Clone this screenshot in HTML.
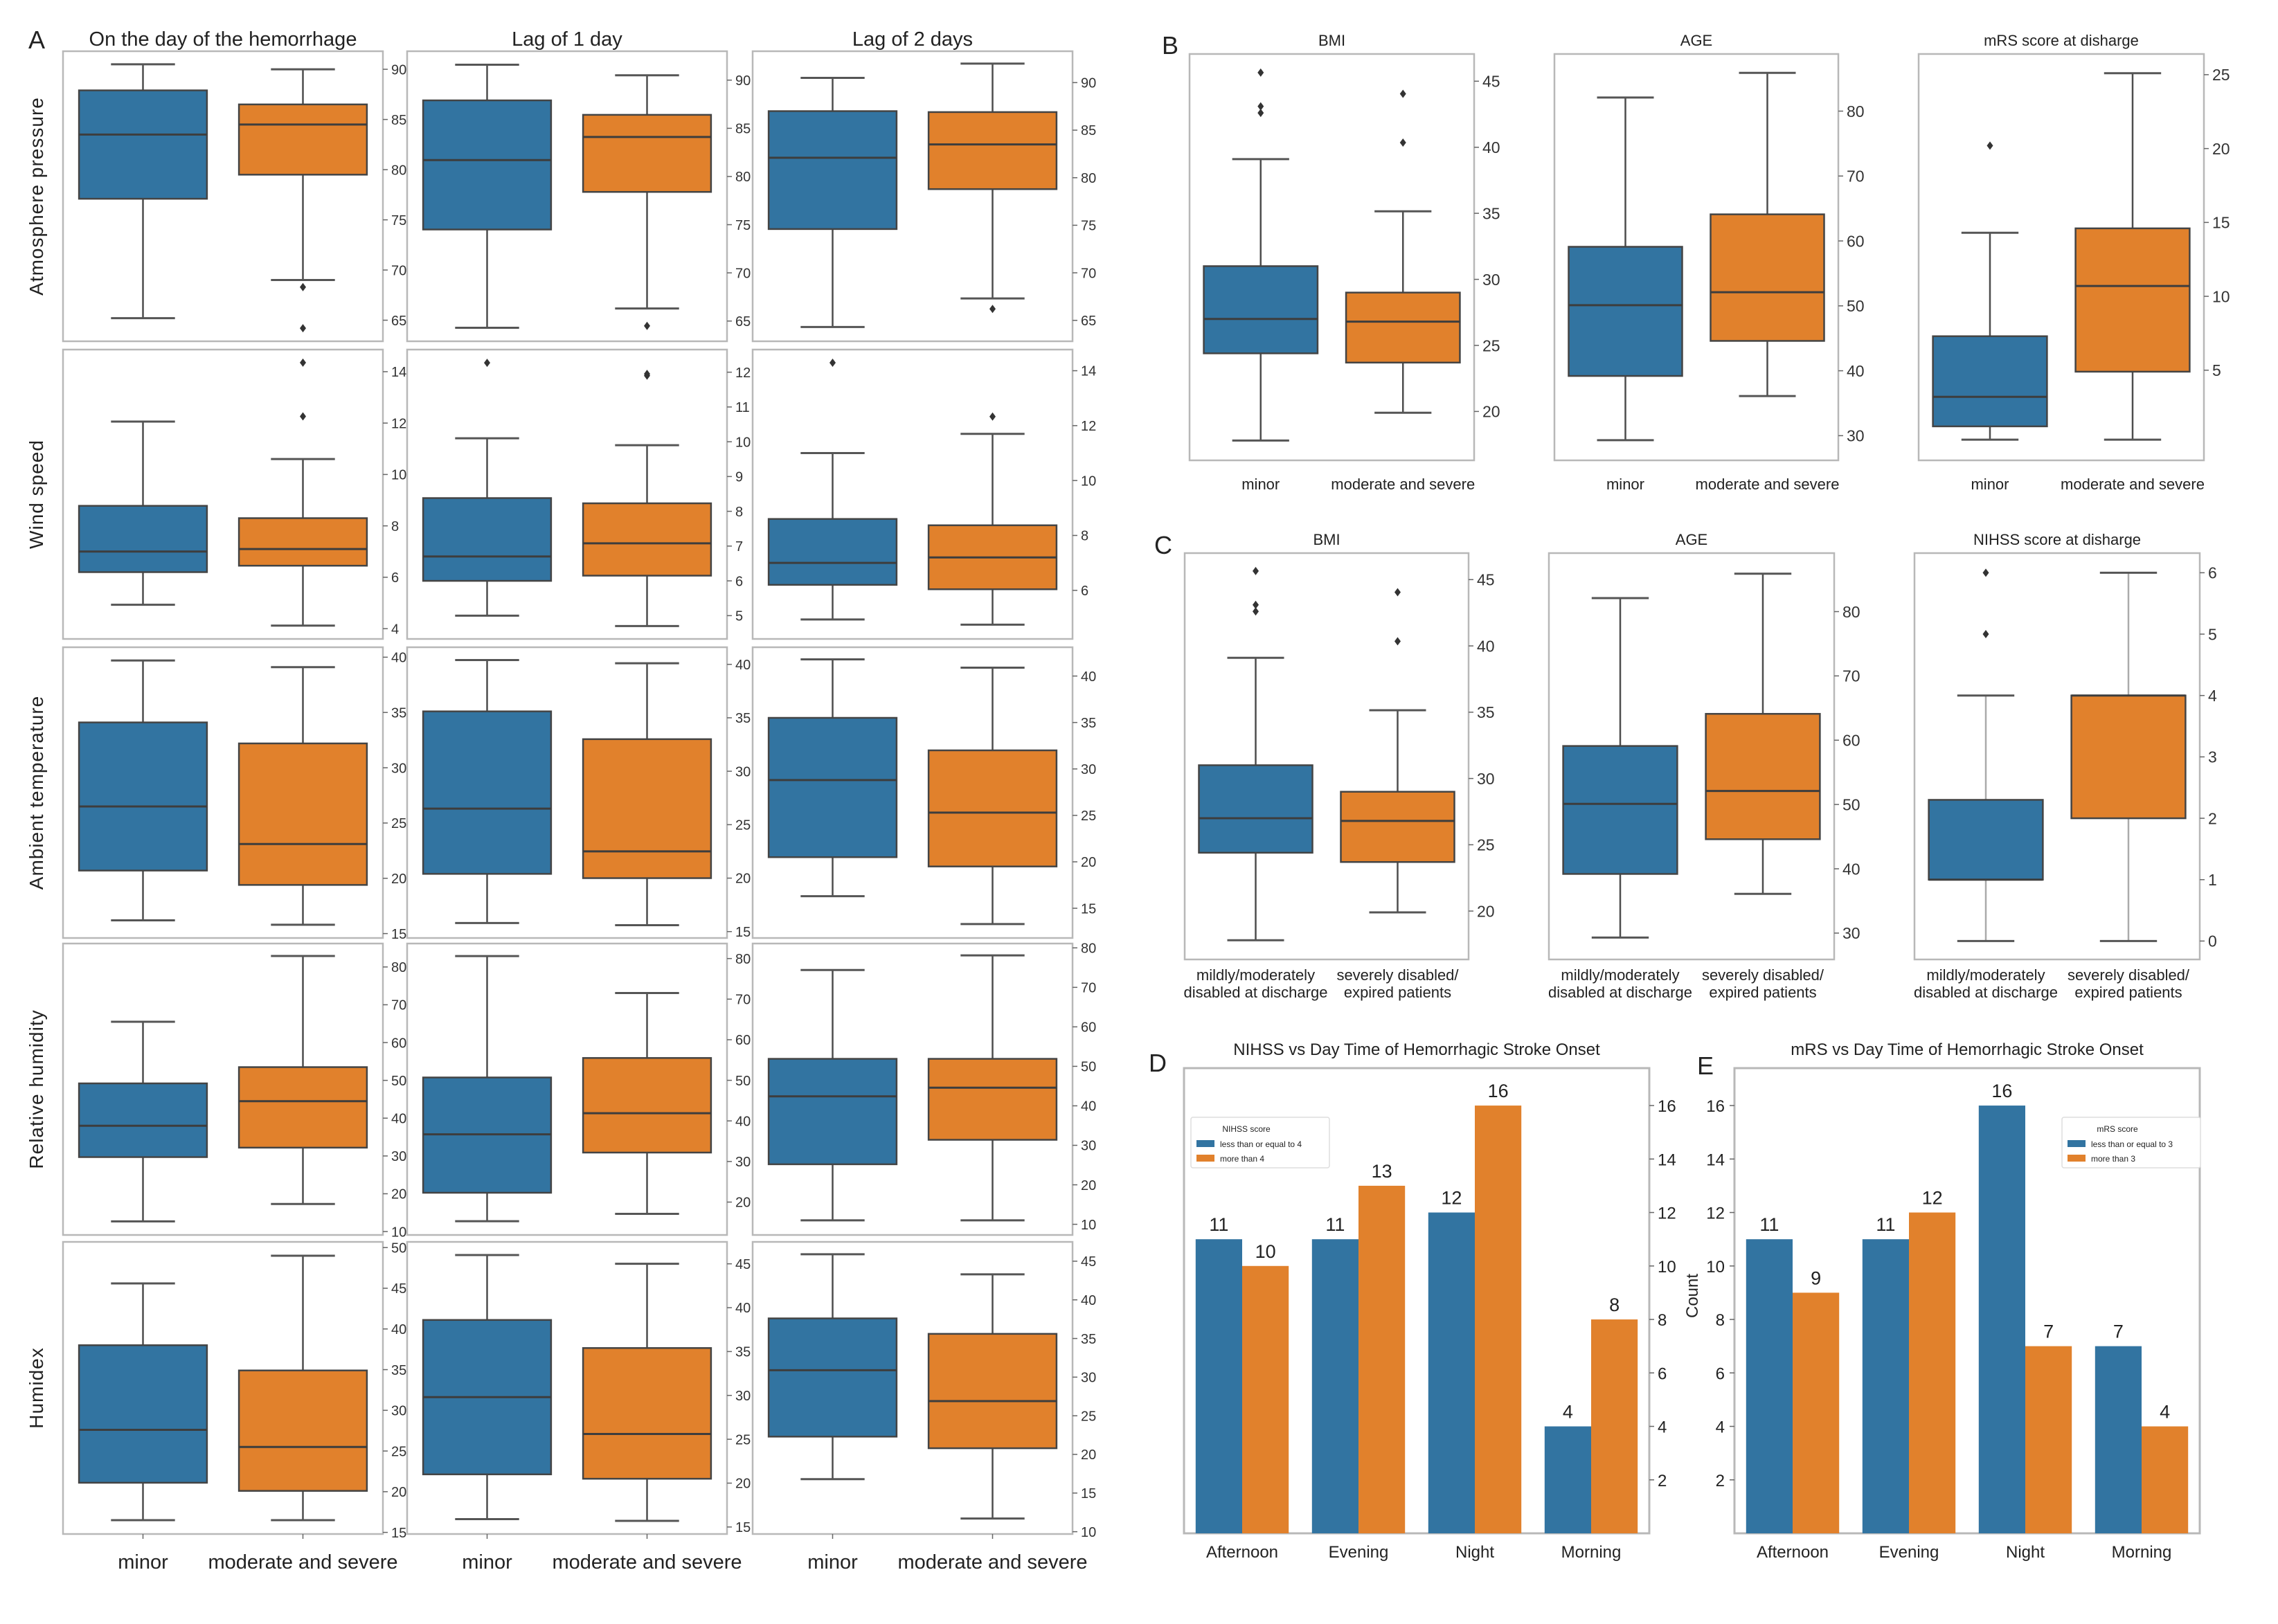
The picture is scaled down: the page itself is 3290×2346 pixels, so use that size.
<!DOCTYPE html>
<html><head><meta charset="utf-8"><style>
html,body{margin:0;padding:0;background:#fff;}
svg{display:block;font-family:"Liberation Sans",sans-serif;}
</style></head><body>
<svg id="fig" width="3290" height="2346" viewBox="0 0 3290 2346" xmlns="http://www.w3.org/2000/svg">
<rect width="3290" height="2346" fill="#fff"/>
</svg>
<script>
// ---------- data: panel A (box stats = [low whisker, q1, median, q3, high whisker]) ----------
const presLag0Minor=[65.2,77.1,83.5,87.9,90.5]; const presLag0Severe=[69,79.5,84.5,86.5,90]; const presLag0SevereOut=[68.3,64.2];
const presLag1Minor=[64.3,74.5,81.7,87.9,91.6]; const presLag1Severe=[66.3,78.4,84.1,86.4,90.5]; const presLag1SevereOut=[64.5];
const presLag2Minor=[64.3,74.6,82.1,87,90.5]; const presLag2Severe=[67.3,78.8,83.5,86.9,92]; const presLag2SevereOut=[66.2];
const windLag0Minor=[4.93,6.2,7.0,8.78,12.06]; const windLag0Severe=[4.12,6.45,7.1,8.3,10.6]; const windLag0SevereOut=[14.35,12.26];
const windLag1Minor=[5.0,6.0,6.7,8.38,10.1]; const windLag1MinorOut=[12.27]; const windLag1Severe=[4.7,6.15,7.08,8.23,9.9]; const windLag1SevereOut=[11.95,11.9];
const windLag2Minor=[4.94,6.2,7.0,8.6,11.0]; const windLag2MinorOut=[14.29]; const windLag2Severe=[4.75,6.04,7.2,8.37,11.7]; const windLag2SevereOut=[12.33];
const tempLag0Minor=[16.2,20.7,26.5,34.1,39.7]; const tempLag0Severe=[15.8,19.4,23.1,32.2,39.1];
const tempLag1Minor=[15.8,20.4,26.5,35.6,40.4]; const tempLag1Severe=[15.6,20.0,22.5,33.0,40.1];
const tempLag2Minor=[16.3,20.5,28.8,35.5,41.8]; const tempLag2Severe=[13.3,19.5,25.3,32.0,40.9];
const humLag0Minor=[12.7,29.7,38.0,49.2,65.5]; const humLag0Severe=[17.3,32.2,44.5,53.5,82.9];
const humLag1Minor=[15.3,22.3,36.7,50.7,80.6]; const humLag1Severe=[17.1,32.2,41.9,55.5,71.5];
const humLag2Minor=[11,25.2,42.4,51.9,74.4]; const humLag2Severe=[11,31.4,44.6,51.9,78.1];
const hdxLag0Minor=[16.5,21.1,27.6,38.0,45.6]; const hdxLag0Severe=[16.5,20.1,25.5,34.9,49.0];
const hdxLag1Minor=[15.9,21.0,29.8,38.6,46.0]; const hdxLag1Severe=[15.7,20.5,25.6,35.4,45.0];
const hdxLag2Minor=[16.8,22.3,30.9,37.6,45.9]; const hdxLag2Severe=[11.7,20.8,26.9,35.6,43.3];
// ---------- data: panels B and C ----------
const bmiMinor=[17.8,24.4,27.0,31.0,39.1]; const bmiMinorOut=[45.65,43.1,42.6];
const bmiSevere=[19.9,23.7,26.8,29.0,35.15]; const bmiSevereOut=[44.05,40.35];
const ageMinor=[29.3,39.2,50.1,59.1,82.1]; const ageSevere=[36.1,44.6,52.1,64.1,85.9];
const mrsMinor=[0.3,1.2,3.2,7.3,14.3]; const mrsMinorOut=[20.2]; const mrsSevere=[0.3,4.9,10.7,14.6,25.1];
const nihssMild=[0,1,1,2.3,4]; const nihssMildOut=[6,5]; const nihssSevere=[0,2,4,4,6];
// ---------- data: panels D and E ----------
const dayTimes=["Afternoon","Evening","Night","Morning"];
const nihssLow=[11,11,12,4]; const nihssHigh=[10,13,16,8];
const mrsLow=[11,11,16,7]; const mrsHigh=[9,12,7,4];
// ---------- tick labels ----------
const ticksPres=[65,70,75,80,85,90], ticksWind0=[4,6,8,10,12,14], ticksWind1=[5,6,7,8,9,10,11,12], ticksWind2=[6,8,10,12,14];
const ticksTemp=[15,20,25,30,35,40], ticksHum=[10,20,30,40,50,60,70,80], ticksHum1=[20,30,40,50,60,70,80];
const ticksHdx0=[15,20,25,30,35,40,45,50], ticksHdx1=[15,20,25,30,35,40,45], ticksHdx2=[10,15,20,25,30,35,40,45];
const ticksBmi=[20,25,30,35,40,45], ticksAge=[30,40,50,60,70,80], ticksMrs=[5,10,15,20,25], ticksNihss=[0,1,2,3,4,5,6];
const ticksCount=[2,4,6,8,10,12,14,16];

const NS="http://www.w3.org/2000/svg", svg=document.getElementById('fig');
const BLUE="#3274a1", ORANGE="#e1812c";
function mk(tag,attrs,parent){const e=document.createElementNS(NS,tag);for(const k in attrs)e.setAttribute(k,attrs[k]);(parent||svg).appendChild(e);return e;}
function txt(x,y,s,size,anchor,parent,extra){const t=mk('text',Object.assign({x:x,y:y,'font-size':size,'text-anchor':anchor||'middle',fill:'#222'},extra||{}),parent);t.textContent=s;return t;}

function boxPanel(name,x0,x1,y0,y1,ymin,ymax,ticks,series,tickFont,grey){
  const g=mk('g',{});
  
  
  const W=x1-x0,H=y1-y0;
  const sy=v=>y1-(v-ymin)/(ymax-ymin)*H;
  const fr=mk('rect',{x:x0,y:y0,width:W,height:H,fill:'none',stroke:'#b8b8b8','stroke-width':2.5},g);
  
  
  ticks.forEach(v=>{
    const y=sy(v);
    mk('line',{x1:x1,x2:x1+7,y1:y,y2:y,stroke:'#666','stroke-width':1.5},g);
    const t=txt(x1+12,y+tickFont*0.36,String(v),tickFont,'start',g,{fill:'#333'});
    
    
  });
  series.forEach((s,i)=>{
    const cx=x0+W*(0.25+0.5*i), bw=W*0.4, st=s.stats;
    const wc=grey?'#aaa':'#4d4d4d';
    mk('line',{x1:cx,x2:cx,y1:sy(st[0]),y2:sy(st[1]),stroke:wc,'stroke-width':2.5},g);
    mk('line',{x1:cx,x2:cx,y1:sy(st[3]),y2:sy(st[4]),stroke:wc,'stroke-width':2.5},g);
    mk('line',{x1:cx-bw/4,x2:cx+bw/4,y1:sy(st[0]),y2:sy(st[0]),stroke:'#555','stroke-width':3},g);
    mk('line',{x1:cx-bw/4,x2:cx+bw/4,y1:sy(st[4]),y2:sy(st[4]),stroke:'#555','stroke-width':3},g);
    const b=mk('rect',{x:cx-bw/2,y:sy(st[3]),width:bw,height:sy(st[1])-sy(st[3]),fill:s.color,stroke:'#444','stroke-width':2.5},g);
    
    
    mk('line',{x1:cx-bw/2,x2:cx+bw/2,y1:sy(st[2]),y2:sy(st[2]),stroke:'#3d3d3d','stroke-width':3},g);
    (s.out||[]).forEach(v=>{
      const o=mk('path',{d:`M${cx},${sy(v)-6}L${cx+4.5},${sy(v)}L${cx},${sy(v)+6}L${cx-4.5},${sy(v)}Z`,fill:'#333'},g);
      
      
    });
  });
  return g;
}

// ---------- Panel A ----------
const colX=[[91,553],[588,1050],[1087,1549]];
const rowY=[[74,493],[505,923],[935,1355],[1363,1784],[1794,2216]];
const A=[
 [[62.9,91.8,ticksPres,presLag0Minor,[],presLag0Severe,presLag0SevereOut],[62.9,93,ticksPres,presLag1Minor,[],presLag1Severe,presLag1SevereOut],[62.8,93.3,ticksPres,presLag2Minor,[],presLag2Severe,presLag2SevereOut]],
 [[3.6,14.86,ticksWind0,windLag0Minor,[],windLag0Severe,windLag0SevereOut],[4.33,12.65,ticksWind1,windLag1Minor,windLag1MinorOut,windLag1Severe,windLag1SevereOut],[4.23,14.77,ticksWind2,windLag2Minor,windLag2MinorOut,windLag2Severe,windLag2SevereOut]],
 [[14.6,40.9,ticksTemp,tempLag0Minor,[],tempLag0Severe,[]],[14.4,41.6,ticksTemp,tempLag1Minor,[],tempLag1Severe,[]],[11.8,43.1,ticksTemp,tempLag2Minor,[],tempLag2Severe,[]]],
 [[9.1,86.2,ticksHum,humLag0Minor,[],humLag0Severe,[]],[11.9,83.7,ticksHum1,humLag1Minor,[],humLag1Severe,[]],[7.3,81.1,ticksHum,humLag2Minor,[],humLag2Severe,[]]],
 [[14.8,50.7,ticksHdx0,hdxLag0Minor,[],hdxLag0Severe,[]],[14.2,47.5,ticksHdx1,hdxLag1Minor,[],hdxLag1Severe,[]],[9.7,47.5,ticksHdx2,hdxLag2Minor,[],hdxLag2Severe,[]]]
];
const rowNames=["Atmosphere pressure","Wind speed","Ambient temperature","Relative humidity","Humidex"];
const colNames=["On the day of the hemorrhage","Lag of 1 day","Lag of 2 days"];
A.forEach((row,r)=>row.forEach((p,c)=>{
  boxPanel('panel-a-'+r+'-'+c,colX[c][0],colX[c][1],rowY[r][0],rowY[r][1],p[0],p[1],p[2],
    [{stats:p[3],out:p[4],color:BLUE,label:'minor'},{stats:p[5],out:p[6],color:ORANGE,label:'moderate-severe'}],20);
}));
let t;
t=txt(53,70,'A',36,'middle');  
colNames.forEach((n,c)=>{t=txt((colX[c][0]+colX[c][1])/2,66,n,29,'middle');  });
rowNames.forEach((n,r)=>{const cy=(rowY[r][0]+rowY[r][1])/2;t=txt(0,0,n,28,'middle',null,{transform:`translate(62,${cy}) rotate(-90)`,'letter-spacing':'1'});});
colX.forEach(cx=>{const W=cx[1]-cx[0];
  t=txt(cx[0]+W*0.25,2266,'minor',29,'middle');  
  t=txt(cx[0]+W*0.75,2266,'moderate and severe',29,'middle');  
  mk('line',{x1:cx[0]+W*0.25,x2:cx[0]+W*0.25,y1:2216,y2:2223,stroke:'#666','stroke-width':1.5});
  mk('line',{x1:cx[0]+W*0.75,x2:cx[0]+W*0.75,y1:2216,y2:2223,stroke:'#666','stroke-width':1.5});
});

// ---------- Panels B & C ----------
const bX=[[1718,2129],[2245,2655],[2771,3183]], bY=[78,665];
const cX=[[1711,2121],[2237,2649],[2765,3177]], cY=[799,1386];
const B=[["BMI",16.3,47.06,ticksBmi,bmiMinor,bmiMinorOut,bmiSevere,bmiSevereOut],["AGE",26.2,88.8,ticksAge,ageMinor,[],ageSevere,[]],["mRS  score at disharge",-1.1,26.4,ticksMrs,mrsMinor,mrsMinorOut,mrsSevere,[]]];
const C=[["BMI",16.35,47,ticksBmi,bmiMinor,bmiMinorOut,bmiSevere,bmiSevereOut],["AGE",25.9,89.1,ticksAge,ageMinor,[],ageSevere,[]],["NIHSS  score at disharge",-0.3,6.32,ticksNihss,nihssMild,nihssMildOut,nihssSevere,[]]];
B.forEach((p,i)=>{
  boxPanel('panel-b-'+i,bX[i][0],bX[i][1],bY[0],bY[1],p[1],p[2],p[3],[{stats:p[4],out:p[5],color:BLUE,label:'minor'},{stats:p[6],out:p[7],color:ORANGE,label:'moderate-severe'}],23);
  const m=(bX[i][0]+bX[i][1])/2, W=bX[i][1]-bX[i][0];
  t=txt(m,66,p[0],22,'middle');  
  t=txt(bX[i][0]+W*0.25,707,'minor',22,'middle');  
  t=txt(bX[i][0]+W*0.75,707,'moderate and severe',22,'middle');  
});
C.forEach((p,i)=>{
  boxPanel('panel-c-'+i,cX[i][0],cX[i][1],cY[0],cY[1],p[1],p[2],p[3],[{stats:p[4],out:p[5],color:BLUE,label:'mild'},{stats:p[6],out:p[7],color:ORANGE,label:'severe'}],23,i==2);
  const m=(cX[i][0]+cX[i][1])/2, W=cX[i][1]-cX[i][0];
  t=txt(m,787,p[0],22,'middle');  
  t=txt(cX[i][0]+W*0.25,1416,'mildly/moderately',22,'middle');  
  t=txt(cX[i][0]+W*0.25,1441,'disabled at discharge',22,'middle');  
  t=txt(cX[i][0]+W*0.75,1416,'severely disabled/',22,'middle');  
  t=txt(cX[i][0]+W*0.75,1441,'expired patients',22,'middle');  
});
t=txt(1690,78,'B',36,'middle');  
t=txt(1680,800,'C',36,'middle');  

// ---------- Panels D & E ----------
function barPanel(name,x0,x1,y0,y1,ymax,low,high,title,leftTicks,legTitle,legA,legB,legX){
  const g=mk('g',{});
  
  
  const W=x1-x0,H=y1-y0, sy=v=>y1-v/ymax*H, gw=W/dayTimes.length, bw=gw*0.4;
  mk('rect',{x:x0,y:y0,width:W,height:H,fill:'none',stroke:'#b8b8b8','stroke-width':3},g);
  ticksCount.forEach(v=>{const y=sy(v);
    if(leftTicks){mk('line',{x1:x0-7,x2:x0,y1:y,y2:y,stroke:'#666','stroke-width':1.5},g);t=txt(x0-14,y+9,String(v),24,'end',g);}
    else{mk('line',{x1:x1,x2:x1+7,y1:y,y2:y,stroke:'#666','stroke-width':1.5},g);t=txt(x1+12,y+9,String(v),24,'start',g);}
     
  });
  dayTimes.forEach((d,i)=>{
    const gx=x0+gw*i+gw*0.1;
    [[low[i],BLUE,'low'],[high[i],ORANGE,'high']].forEach((b,j)=>{
      const r=mk('rect',{x:gx+bw*j,y:sy(b[0]),width:bw,height:y1-sy(b[0]),fill:b[1]},g);
      
      
      t=txt(gx+bw*j+bw/2,sy(b[0])-12,String(b[0]),27,'middle',g);
       
    });
    t=txt(x0+gw*i+gw/2,2250,d,24,'middle',g);
     
  });
  t=txt((x0+x1)/2,1524,title,24,'middle',g);
   
  const lg=mk('g',{},g);
  
  
  mk('rect',{x:legX,y:1614,width:200,height:73,fill:'#fff',stroke:'#ddd','stroke-width':1.5,rx:3},lg);
  txt(legX+80,1635,legTitle,12,'middle',lg);
  mk('rect',{x:legX+8,y:1647,width:26,height:10,fill:BLUE},lg);
  txt(legX+42,1657,legA,12,'start',lg);
  mk('rect',{x:legX+8,y:1668,width:26,height:10,fill:ORANGE},lg);
  txt(legX+42,1678,legB,12,'start',lg);
}
barPanel('panel-d',1710,2382,1543,2215,17.4,nihssLow,nihssHigh,'NIHSS vs Day Time of Hemorrhagic Stroke Onset',false,'NIHSS score','less than or equal to 4','more than 4',1720);
barPanel('panel-e',2505,3177,1543,2215,17.4,mrsLow,mrsHigh,'mRS vs Day Time of Hemorrhagic Stroke Onset',true,'mRS score','less than or equal to 3','more than 3',2978);
t=txt(1672,1548,'D',36,'middle');  
t=txt(2463,1552,'E',36,'middle');  
t=txt(0,0,'Count',24,'middle',null,{transform:'translate(2452,1872) rotate(-90)'});  
</script>
</body></html>
